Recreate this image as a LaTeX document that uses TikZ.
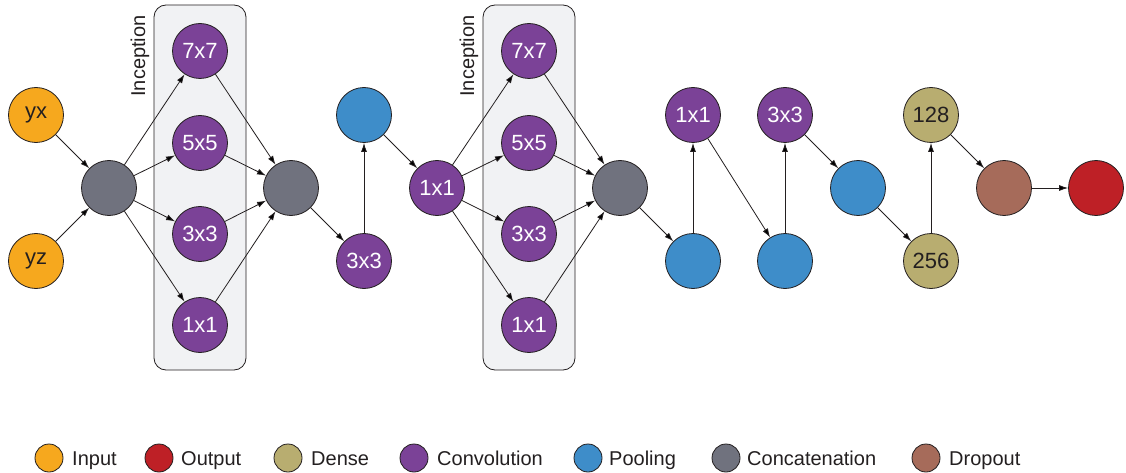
\documentclass[tikz,border=0pt]{standalone}
\usepackage{fontspec}
\setmainfont{Liberation Sans}
\usetikzlibrary{positioning,arrows.meta}

\definecolor{inputc}{RGB}{246,168,30}
\definecolor{outputc}{RGB}{190,32,38}
\definecolor{densec}{RGB}{184,173,112}
\definecolor{convc}{RGB}{123,66,151}
\definecolor{poolc}{RGB}{62,141,201}
\definecolor{concatc}{RGB}{112,114,126}
\definecolor{dropc}{RGB}{166,107,90}
\definecolor{boxc}{RGB}{241,242,244}
\definecolor{edgec}{RGB}{35,31,32}

\begin{document}
\begin{tikzpicture}[x=1pt,y=-1pt,node distance=73pt,on grid,
    layer/.style={circle,draw=edgec,line width=0.8pt,minimum size=55pt,inner sep=0pt,
      font=\fontsize{22}{22}\selectfont,text=edgec},
    input/.style={layer,fill=inputc},
    output/.style={layer,fill=outputc},
    dense/.style={layer,fill=densec},
    conv/.style={layer,fill=convc,text=white},
    pool/.style={layer,fill=poolc},
    concat/.style={layer,fill=concatc},
    drop/.style={layer,fill=dropc},
    key/.style={circle,draw=edgec,line width=0.8pt,minimum size=28pt,inner sep=0pt},
    keytext/.style={inner sep=0pt,anchor=base west,text=edgec,font=\fontsize{20}{20}\selectfont},
    incbox/.style={draw=edgec,fill=boxc,line width=0.8pt,rounded corners=12pt},
    link/.style={-{Latex[length=9pt,width=6pt]},line width=0.8pt,draw=edgec}]
  \useasboundingbox (0,0) rectangle (1126,473);

  % inception blocks
  \draw[incbox] (154,5) rectangle (246,370);
  \draw[incbox] (483,5) rectangle (575,370);
  \node[rotate=90,text=edgec,font=\fontsize{20}{20}\selectfont] (inc_a) at (140,56) {Inception};
  \node[rotate=90,text=edgec,font=\fontsize{20}{20}\selectfont] (inc_b) at (469,56) {Inception};

  % layers
  \node[concat] (cat_a) at (109,188) {};
  \node[input] (yx) [above left=73pt and 73pt of cat_a] {yx};
  \node[input] (yz) [below left=73pt and 73pt of cat_a] {yz};
  \node[conv] (a77) at (200,51) {7x7};
  \node[conv] (a55) at (200,143) {5x5};
  \node[conv] (a33) at (200,234) {3x3};
  \node[conv] (a11) at (200,325) {1x1};
  \node[concat] (cat_b) at (291,188) {};
  \node[conv] (b33) [below right=73pt and 73pt of cat_b] {3x3};
  \node[pool] (pool_a) [above=146pt of b33] {};
  \node[conv] (b11) [right=146pt of cat_b] {1x1};
  \node[conv] (c77) at (529,51) {7x7};
  \node[conv] (c55) at (529,143) {5x5};
  \node[conv] (c33) at (529,234) {3x3};
  \node[conv] (c11) at (529,325) {1x1};
  \node[concat] (cat_c) at (620,188) {};
  \node[pool] (pool_b) [below right=73pt and 73pt of cat_c] {};
  \node[conv] (d11) [above=146pt of pool_b] {1x1};
  \node[pool] (pool_c) [right=92pt of pool_b] {};
  \node[conv] (d33) [above=146pt of pool_c] {3x3};
  \node[pool] (pool_d) [below right=73pt and 73pt of d33] {};
  \node[dense] (fc256) [below right=73pt and 73pt of pool_d] {256};
  \node[dense] (fc128) [above=146pt of fc256] {128};
  \node[drop] (drop) [below right=73pt and 73pt of fc128] {};
  \node[output] (out) [right=92pt of drop] {};

  \path[link]
    (yx) edge (cat_a)
    (yz) edge (cat_a)
    (cat_a) edge (a77) edge (a55) edge (a33) edge (a11)
    (a77) edge (cat_b)
    (a55) edge (cat_b)
    (a33) edge (cat_b)
    (a11) edge (cat_b)
    (cat_b) edge (b33)
    (b33) edge (pool_a)
    (pool_a) edge (b11)
    (b11) edge (c77) edge (c55) edge (c33) edge (c11)
    (c77) edge (cat_c)
    (c55) edge (cat_c)
    (c33) edge (cat_c)
    (c11) edge (cat_c)
    (cat_c) edge (pool_b)
    (pool_b) edge (d11)
    (d11) edge (pool_c)
    (pool_c) edge (d33)
    (d33) edge (pool_d)
    (pool_d) edge (fc256)
    (fc256) edge (fc128)
    (fc128) edge (drop)
    (drop) edge (out);

  % legend
  \node[key,fill=inputc] (k_in) at (49,458) {};
  \node[keytext] (t_in) at ([xshift=23pt,yshift=-7pt]k_in.center) {Input};
  \node[key,fill=outputc] (k_out) at (159,458) {};
  \node[keytext] (t_out) at ([xshift=22pt,yshift=-7pt]k_out.center) {Output};
  \node[key,fill=densec] (k_dense) at (288,458) {};
  \node[keytext] (t_dense) at ([xshift=23pt,yshift=-7pt]k_dense.center) {Dense};
  \node[key,fill=convc] (k_conv) at (414,458) {};
  \node[keytext] (t_conv) at ([xshift=23pt,yshift=-7pt]k_conv.center) {Convolution};
  \node[key,fill=poolc] (k_pool) at (588,458) {};
  \node[keytext] (t_pool) at ([xshift=21pt,yshift=-7pt]k_pool.center) {Pooling};
  \node[key,fill=concatc] (k_cat) at (726,458) {};
  \node[keytext] (t_cat) at ([xshift=21pt,yshift=-7pt]k_cat.center) {Concatenation};
  \node[key,fill=dropc] (k_drop) at (926,458) {};
  \node[keytext] (t_drop) at ([xshift=23pt,yshift=-7pt]k_drop.center) {Dropout};
\end{tikzpicture}
\end{document}
